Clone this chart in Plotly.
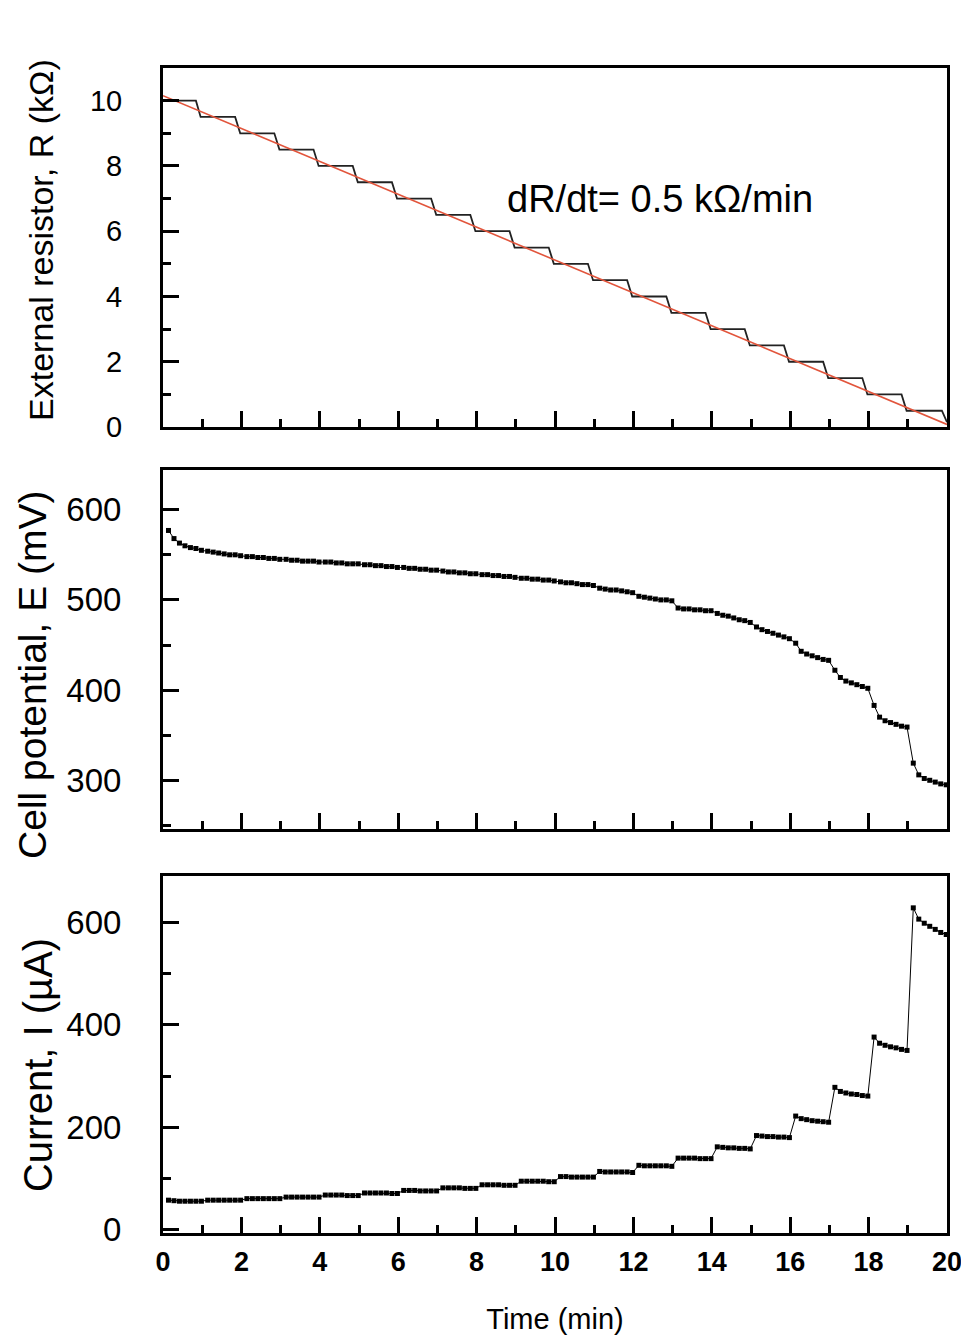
import plotly.graph_objects as go

# ---- top panel: external resistor (kOhm) ----
R_levels = [10.0, 9.5, 9.0, 8.5, 8.0, 7.5, 7.0, 6.5, 6.0, 5.5,
            5.0, 4.5, 4.0, 3.5, 3.0, 2.5, 2.0, 1.5, 1.0, 0.5]
R_on = [0.0, 0.96, 1.97, 2.97, 3.97, 4.97, 5.97, 6.97, 7.97, 8.97,
        9.97, 10.97, 11.97, 12.97, 13.97, 14.97, 15.97, 16.97, 17.97, 18.97]
R_off = [0.84, 1.84, 2.84, 3.84, 4.84, 5.84, 6.84, 7.84, 8.84, 9.84,
         10.84, 11.84, 12.84, 13.84, 14.84, 15.84, 16.84, 17.84, 18.84, 19.87]
R_final = [20.0, 0.15]
fit_t = [0, 20]
fit_R = [10.15, 0.08]

# ---- middle / bottom panels: sampled every ~0.14 min ----
minutes = list(range(20))
offsets = [0.14, 0.28, 0.42, 0.56, 0.70, 0.84, 0.98]

E_rows = [
    [577, 568, 563, 560, 558, 557, 555],
    [554, 553, 552, 551, 550, 550, 549],
    [548, 548, 547, 547, 546, 546, 545],
    [545, 544, 544, 543, 543, 543, 542],
    [542, 542, 541, 541, 540, 540, 540],
    [539, 539, 538, 538, 537, 537, 536],
    [536, 535, 535, 534, 534, 533, 533],
    [532, 531, 531, 530, 530, 529, 529],
    [528, 528, 527, 527, 526, 526, 525],
    [524, 524, 523, 523, 522, 522, 521],
    [520, 519, 519, 518, 517, 517, 516],
    [513, 512, 511, 511, 510, 509, 508],
    [504, 503, 502, 501, 500, 500, 499],
    [491, 490, 490, 489, 489, 488, 488],
    [485, 483, 482, 480, 478, 477, 475],
    [470, 467, 465, 463, 461, 459, 457],
    [452, 443, 440, 438, 436, 434, 433],
    [422, 414, 410, 408, 406, 404, 402],
    [383, 370, 366, 364, 362, 360, 359],
    [319, 306, 302, 300, 298, 296, 295],
]

I_rows = [
    [58, 57, 56, 56, 56, 56, 56],
    [58, 58, 58, 58, 58, 58, 58],
    [61, 61, 61, 61, 61, 61, 61],
    [64, 64, 64, 64, 64, 64, 64],
    [68, 68, 68, 68, 67, 67, 67],
    [72, 72, 72, 72, 72, 71, 71],
    [77, 77, 77, 76, 76, 76, 76],
    [82, 82, 82, 82, 81, 81, 81],
    [88, 88, 88, 88, 87, 87, 87],
    [95, 95, 95, 95, 95, 94, 94],
    [104, 104, 103, 103, 103, 103, 103],
    [114, 113, 113, 113, 113, 113, 112],
    [126, 125, 125, 125, 125, 125, 124],
    [140, 140, 140, 140, 139, 139, 139],
    [162, 161, 160, 160, 159, 159, 158],
    [184, 183, 182, 182, 181, 181, 180],
    [222, 217, 215, 213, 212, 211, 210],
    [278, 270, 267, 265, 264, 262, 261],
    [376, 364, 360, 357, 355, 352, 350],
    [628, 606, 598, 592, 586, 580, 576],
]

# build step curve and sampled series
step_t, step_R = [], []
for on, off, lvl in zip(R_on, R_off, R_levels):
    step_t += [on, off]
    step_R += [lvl, lvl]
step_t.append(R_final[0])
step_R.append(R_final[1])

t_s, E_s, I_s = [], [], []
for m, er, ir in zip(minutes, E_rows, I_rows):
    for o, e, i in zip(offsets, er, ir):
        t_s.append(round(m + o, 2))
        E_s.append(e)
        I_s.append(i)

fig = go.Figure()
fig.add_trace(go.Scatter(x=step_t, y=step_R, mode="lines",
                         line=dict(color="#222222", width=1.8),
                         xaxis="x", yaxis="y", showlegend=False))
fig.add_trace(go.Scatter(x=fit_t, y=fit_R, mode="lines",
                         line=dict(color="#e2553c", width=1.6),
                         xaxis="x", yaxis="y", showlegend=False))
fig.add_trace(go.Scatter(x=t_s, y=E_s, mode="lines+markers",
                         line=dict(color="black", width=1),
                         marker=dict(symbol="square", size=5, color="black"),
                         xaxis="x2", yaxis="y2", showlegend=False))
fig.add_trace(go.Scatter(x=t_s, y=I_s, mode="lines+markers",
                         line=dict(color="black", width=1),
                         marker=dict(symbol="square", size=5, color="black"),
                         xaxis="x3", yaxis="y3", showlegend=False))

font_main = "Liberation Sans, Arial, sans-serif"
axis_common = dict(showline=True, linecolor="black", linewidth=3, mirror=True,
                   ticks="inside", ticklen=16, tickwidth=2.5, tickcolor="black",
                   showgrid=False, zeroline=False, automargin=False)

def xax(anchor, labels):
    d = dict(axis_common, range=[0, 20], dtick=2, anchor=anchor,
             showticklabels=labels,
             minor=dict(ticks="inside", ticklen=8, tickwidth=2.5,
                        tickcolor="black", dtick=1))
    if labels:
        d.update(tickfont=dict(family=font_main, size=27, color="black", weight="bold"),
                 ticklabelstandoff=3,
                 title=dict(text="Time (min)", standoff=33,
                            font=dict(family=font_main, size=29, color="black")))
    return d

def yax(rng, dtick, minor, dom, size):
    return dict(axis_common, range=rng, dtick=dtick, domain=dom,
                minor=dict(ticks="inside", ticklen=8, tickwidth=2.5,
                           tickcolor="black", dtick=minor),
                tickfont=dict(family=font_main, size=size, color="black"),
                ticklabelstandoff=32)

titles = [
    ("External resistor, R (kΩ)", -0.1556, 0.8524, 34),
    ("Cell potential, E (mV)", -0.1658, 0.479, 39),
    ("Current, I (µA)", -0.1594, 0.1442, 40),
]
annotations = [dict(x=12.68, y=7.0, xref="x", yref="y", showarrow=False,
                    text="dR/dt= 0.5 kΩ/min",
                    font=dict(family=font_main, size=38, color="black"))]
for text, ax, ay, sz in titles:
    annotations.append(dict(x=ax, y=ay, xref="paper", yref="paper", text=text,
                            textangle=-90, showarrow=False,
                            xanchor="center", yanchor="middle",
                            font=dict(family=font_main, size=sz, color="black")))

# the page body adds an 8 px margin, so the figure is trimmed by that amount
fig.update_layout(
    width=961, height=1328,
    margin=dict(l=155, r=22, t=60, b=103),
    paper_bgcolor="white", plot_bgcolor="white",
    xaxis=xax("y", False),
    xaxis2=dict(xax("y2", False), matches="x"),
    xaxis3=dict(xax("y3", True), matches="x"),
    yaxis=yax([0, 11], 2, 1, [0.6918, 1.0], 29),
    yaxis2=yax([246, 644], 100, 50, [0.3468, 0.6549], 33),
    yaxis3=yax([-6, 690], 200, 100, [0.0, 0.3064], 33),
    annotations=annotations,
)

fig.write_html("out.html")
